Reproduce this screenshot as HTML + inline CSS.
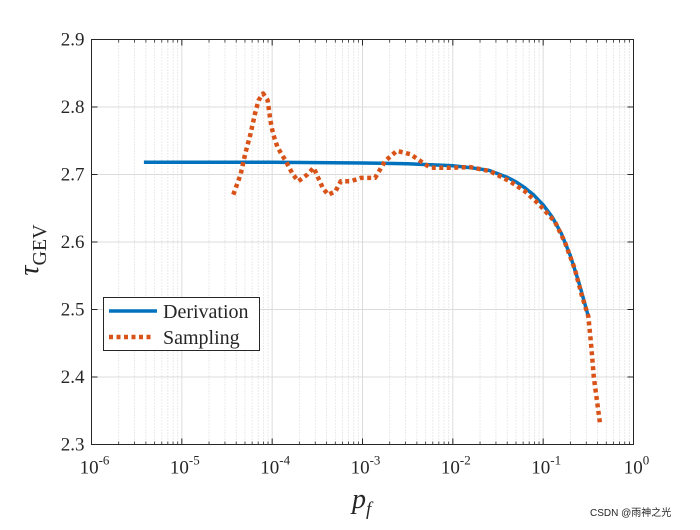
<!DOCTYPE html>
<html><head><meta charset="utf-8"><style>
body{margin:0;background:#fff}
svg text{font-family:"Liberation Serif",serif;fill:#262626}
</style></head><body>
<svg id="c" width="700" height="525">
<rect width="700" height="525" fill="#fff"/>
<g id="grid"></g>
<g id="series"></g>
<rect x="91.5" y="39.5" width="542" height="405" fill="none" stroke="#262626" stroke-width="1"/>
<g id="ticks"></g>
<text x="38" y="250" font-size="28" font-style="italic" transform="rotate(-90 38 250)" text-anchor="middle">τ<tspan font-size="20" font-style="normal" dy="8">GEV</tspan></text>
<text x="352" y="508" font-size="28" font-style="italic">p<tspan font-size="19" dy="7">f</tspan></text>
<g>
<rect x="103.5" y="297.5" width="156" height="53" fill="#fff" stroke="#262626"/>
<line x1="109" y1="311" x2="157" y2="311" stroke="#0072BD" stroke-width="3.5"/>
<text x="163" y="318" font-size="20">Derivation</text>
<line x1="109" y1="337" x2="154" y2="337" stroke="#D95319" stroke-width="4.5" stroke-dasharray="4 3.5"/>
<text x="163" y="344" font-size="20">Sampling</text>
</g>
<text x="590" y="516" font-size="10" style="font-family:'Liberation Sans','Noto Sans CJK SC',sans-serif" fill="#999">CSDN @雨神之光</text>
</svg>
<script>
const derivLogPf=[-5.42,-4,-3,-2.5,-2,-1.8,-1.6,-1.5,-1.4,-1.3,-1.2,-1.1,-1.0,-0.9,-0.8,-0.7,-0.6,-0.5];
const derivTau=[2.718,2.718,2.717,2.716,2.713,2.710,2.706,2.701,2.696,2.689,2.680,2.669,2.655,2.637,2.613,2.580,2.538,2.49];
const sampLogPf=[-4.43,-4.35,-4.30,-4.24,-4.19,-4.15,-4.10,-4.05,-4.02,-3.99,-3.94,-3.85,-3.77,-3.71,-3.61,-3.54,-3.49,-3.44,-3.38,-3.30,-3.24,-3.13,-3.02,-2.86,-2.75,-2.62,-2.47,-2.36,-2.25,-2.14,-2.00,-1.81,-1.59,-1.37,-1.20,-1.04,-0.87,-0.76,-0.65,-0.57,-0.50,-0.47,-0.44,-0.40,-0.37];
const sampTau=[2.67,2.70,2.73,2.76,2.79,2.81,2.82,2.81,2.78,2.76,2.74,2.72,2.70,2.69,2.70,2.71,2.695,2.68,2.67,2.675,2.69,2.69,2.695,2.695,2.72,2.735,2.73,2.72,2.71,2.71,2.71,2.711,2.705,2.69,2.675,2.655,2.63,2.60,2.56,2.52,2.49,2.45,2.40,2.36,2.33];
const xTickExp=[-6,-5,-4,-3,-2,-1,0];
const yTicks=[2.3,2.4,2.5,2.6,2.7,2.8,2.9];
const L=91.5,R=633.5,T=39.5,B=444.5;
const X=e=>L+(e+6)/6*(R-L);
const Y=v=>B-(v-2.3)/0.6*(B-T);
const NS="http://www.w3.org/2000/svg";
function mk(p,tag,a){const e=document.createElementNS(NS,tag);for(const k in a)e.setAttribute(k,a[k]);p.appendChild(e);return e;}
const g=document.getElementById('grid'),tk=document.getElementById('ticks'),s=document.getElementById('series');
for(let d=-6;d<0;d++)for(let m=2;m<=9;m++){const x=X(d+Math.log10(m));
 const l=mk(g,'line',{x1:x,x2:x,y1:T,y2:B,stroke:'#cccccc','stroke-width':0.8,'stroke-dasharray':'1 2'});
 
 
 mk(tk,'line',{x1:x,x2:x,y1:B,y2:B-3,stroke:'#262626','stroke-width':0.8});mk(tk,'line',{x1:x,x2:x,y1:T,y2:T+3,stroke:'#262626','stroke-width':0.8});}
xTickExp.forEach(e=>{const x=X(e);
 const l=mk(g,'line',{x1:x,x2:x,y1:T,y2:B,stroke:'#dcdcdc','stroke-width':1});
 
 
 mk(tk,'line',{x1:x,x2:x,y1:B,y2:B-6,stroke:'#262626'});mk(tk,'line',{x1:x,x2:x,y1:T,y2:T+6,stroke:'#262626'});
 const t=mk(tk,'text',{x:x+3,y:B+29,'font-size':19,'text-anchor':'middle'});
 
 
 t.innerHTML='10<tspan font-size="13" dy="-9">'+e+'</tspan>';});
yTicks.forEach(v=>{const y=Y(v);
 const l=mk(g,'line',{x1:L,x2:R,y1:y,y2:y,stroke:'#dcdcdc','stroke-width':1});
 
 
 mk(tk,'line',{x1:L,x2:L+6,y1:y,y2:y,stroke:'#262626'});mk(tk,'line',{x1:R,x2:R-6,y1:y,y2:y,stroke:'#262626'});
 const t=mk(tk,'text',{x:L-7,y:y+6,'font-size':19,'text-anchor':'end'});
 
 
 t.textContent=v.toFixed(1);});
const pd=(xs,ys)=>xs.map((e,i)=>(i?'L':'M')+X(e).toFixed(1)+' '+Y(ys[i]).toFixed(1)).join(' ');
const d1=mk(s,'path',{d:pd(derivLogPf,derivTau),fill:'none',stroke:'#0072BD','stroke-width':3.5,'stroke-linejoin':'round'});


const d2=mk(s,'path',{d:pd(sampLogPf,sampTau),fill:'none',stroke:'#D95319','stroke-width':4.5,'stroke-dasharray':'4 3.5','stroke-linejoin':'round'});


</script>
</body></html>
